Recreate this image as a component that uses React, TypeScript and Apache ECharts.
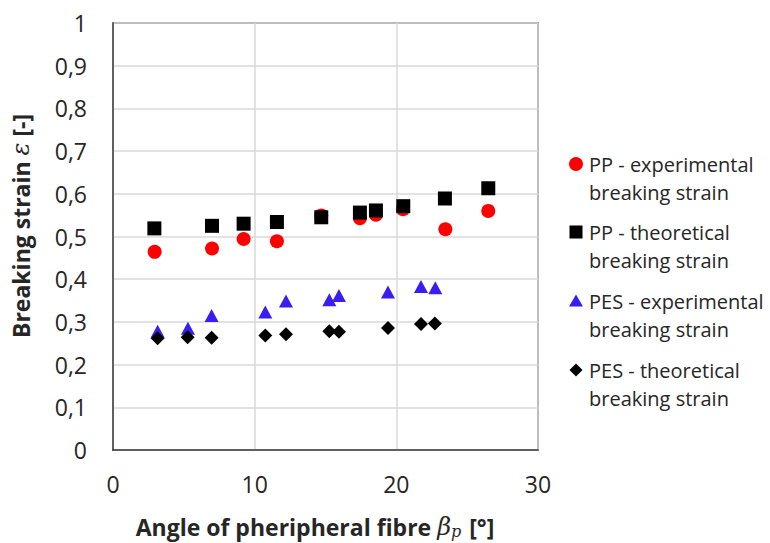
import React, { useEffect, useRef } from "react";
import * as echarts from "echarts";

const ppExpX = [2.94, 6.99, 9.22, 11.57, 14.7, 17.43, 18.56, 20.47, 23.46, 26.49];
const ppExpY = [0.464, 0.472, 0.494, 0.489, 0.549, 0.543, 0.551, 0.564, 0.517, 0.56];
const ppTheoX = [2.92, 6.99, 9.22, 11.57, 14.7, 17.43, 18.56, 20.49, 23.43, 26.49];
const ppTheoY = [0.519, 0.525, 0.53, 0.534, 0.545, 0.556, 0.561, 0.571, 0.589, 0.613];
const pesExpX = [3.15, 5.29, 6.96, 10.75, 12.21, 15.27, 15.95, 19.41, 21.74, 22.75];
const pesExpY = [0.278, 0.285, 0.315, 0.323, 0.349, 0.352, 0.362, 0.37, 0.383, 0.38];
const pesTheoX = [3.15, 5.27, 6.96, 10.75, 12.21, 15.27, 15.95, 19.41, 21.74, 22.72];
const pesTheoY = [0.262, 0.264, 0.263, 0.268, 0.271, 0.278, 0.277, 0.286, 0.295, 0.296];

const legendLines = [
  ["PP - experimental", "breaking strain"],
  ["PP - theoretical", "breaking strain"],
  ["PES - experimental", "breaking strain"],
  ["PES - theoretical", "breaking strain"],
];

const FONT = "'Open Sans', sans-serif";
const SERIF = "'DejaVu Serif', serif";
const TXT = "#262626";
const zip = (xs: number[], ys: number[]) => xs.map((x, i) => [x, ys[i]]);

export default function App() {
  const ref = useRef<HTMLDivElement>(null);
  useEffect(() => {
    const chart = echarts.init(ref.current!, null, { renderer: "svg" });
    const lx = 576;
    const ly = [164, 232, 301, 370];
    const graphics: any[] = [];
    graphics.push({ type: "circle", shape: { cx: lx, cy: ly[0], r: 7 }, style: { fill: "#ff0000" } });
    graphics.push({ type: "rect", shape: { x: lx - 6.5, y: ly[1] - 6.5, width: 13, height: 13 }, style: { fill: "#000" } });
    graphics.push({
      type: "polygon",
      shape: { points: [[lx, ly[2] - 6.5], [lx + 7, ly[2] + 5.5], [lx - 7, ly[2] + 5.5]] },
      style: { fill: "#3a1df0" },
    });
    graphics.push({
      type: "polygon",
      shape: { points: [[lx, ly[3] - 6.5], [lx + 6.5, ly[3]], [lx, ly[3] + 6.5], [lx - 6.5, ly[3]]] },
      style: { fill: "#000" },
    });
    legendLines.forEach((ls, i) => {
      ls.forEach((t, j) => {
        graphics.push({
          type: "text",
          x: 589,
          y: ly[i] + j * 28,
          style: { text: t, fontFamily: FONT, fontSize: 20, fill: TXT, textAlign: "left", textVerticalAlign: "middle" },
        });
      });
    });
    // axis titles
    graphics.push({
      type: "text",
      x: 315,
      y: 527,
      style: {
        text: "{b|Angle of pheripheral fibre }{g|β}{s|p}{b| [°]}",
        textAlign: "center",
        textVerticalAlign: "middle",
        rich: {
          b: { fontFamily: FONT, fontSize: 23, fontWeight: "bold", fill: TXT, color: TXT, lineHeight: 24 },
          g: { fontFamily: SERIF, fontStyle: "italic", fontSize: 24, fill: TXT, color: TXT, lineHeight: 24 },
          s: { fontFamily: SERIF, fontStyle: "italic", fontSize: 16, fill: TXT, color: TXT, lineHeight: 14, padding: [8, 2, 0, 0] },
        },
      },
    });
    graphics.push({
      type: "text",
      x: 21,
      y: 226,
      rotation: Math.PI / 2,
      style: {
        text: "{b|Breaking strain }{e|ε}{b| [-]}",
        textAlign: "center",
        textVerticalAlign: "middle",
        rich: {
          b: { fontFamily: FONT, fontSize: 23, fontWeight: "bold", fill: TXT, color: TXT },
          e: { fontFamily: SERIF, fontStyle: "italic", fontSize: 24, fill: TXT, color: TXT },
        },
      },
    });

    chart.setOption({
      animation: false,
      graphic: graphics,
      grid: { left: 113, right: 232, top: 23, bottom: 93, show: true, borderColor: "#404040", borderWidth: 1.5, backgroundColor: "transparent" },
      xAxis: {
        type: "value",
        min: 0,
        max: 30,
        interval: 10,
        axisLine: { show: true, lineStyle: { color: "#404040", width: 1.5 } },
        axisTick: { show: false },
        splitLine: { show: true, lineStyle: { color: "#d9d9d9", width: 1.5 } },
        axisLabel: { fontFamily: FONT, fontSize: 23, color: TXT, margin: 22 },
      },
      yAxis: {
        type: "value",
        min: 0,
        max: 1,
        interval: 0.1,
        axisLine: { show: true, lineStyle: { color: "#404040", width: 1.5 } },
        axisTick: { show: false },
        splitLine: { show: true, lineStyle: { color: "#d9d9d9", width: 1.5 } },
        axisLabel: {
          fontFamily: FONT,
          fontSize: 23,
          color: TXT,
          margin: 26,
          formatter: (v: number) => String(Math.round(v * 10) / 10).replace(".", ","),
        },
      },
      series: [
        { type: "scatter", data: zip(ppExpX, ppExpY), symbol: "circle", symbolSize: 14, itemStyle: { color: "#ff0000", opacity: 1 } },
        { type: "scatter", data: zip(ppTheoX, ppTheoY), symbol: "rect", symbolSize: 14, itemStyle: { color: "#000000", opacity: 1 } },
        { type: "scatter", data: zip(pesExpX, pesExpY), symbol: "triangle", symbolSize: [14, 13], itemStyle: { color: "#3a1df0", opacity: 1 } },
        { type: "scatter", data: zip(pesTheoX, pesTheoY), symbol: "diamond", symbolSize: 14, itemStyle: { color: "#000000", opacity: 1 } },
      ],
    });
    return () => chart.dispose();
  }, []);
  return <div ref={ref} style={{ position: "absolute", left: 0, top: 0, width: 770, height: 543 }} />;
}
